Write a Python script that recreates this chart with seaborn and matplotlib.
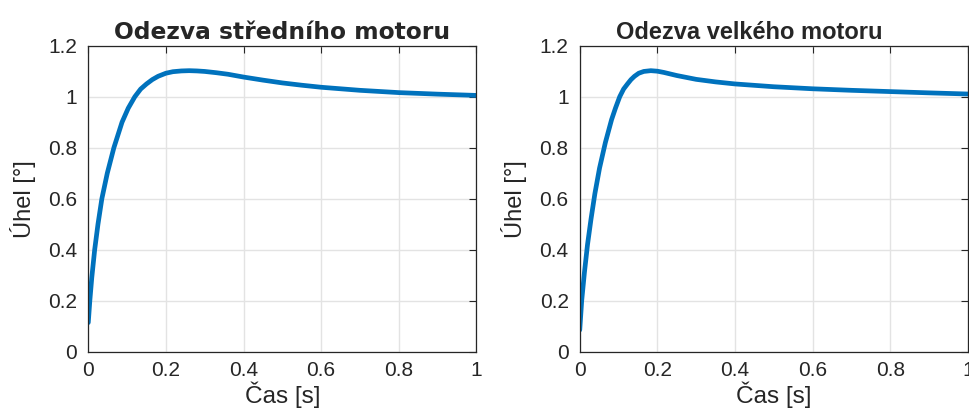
import matplotlib
matplotlib.use('Agg')
import matplotlib.pyplot as plt
from matplotlib.ticker import FuncFormatter
import seaborn as sns
import pandas as pd

# odezva stredniho motoru
t_stredni = [0, 0.004, 0.009, 0.0165, 0.025, 0.035, 0.049, 0.066, 0.087, 0.103, 0.12,
             0.135, 0.15, 0.165, 0.18, 0.2, 0.218, 0.24, 0.26, 0.28, 0.3, 0.33, 0.36,
             0.4, 0.45, 0.5, 0.55, 0.6, 0.7, 0.8, 0.9, 1.0]
uhel_stredni = [0.114, 0.2, 0.29, 0.4, 0.5, 0.6, 0.7, 0.8, 0.9, 0.955, 1.0,
                1.03, 1.05, 1.067, 1.08, 1.092, 1.098, 1.101, 1.102, 1.101, 1.099, 1.094, 1.088,
                1.077, 1.065, 1.054, 1.045, 1.037, 1.025, 1.016, 1.01, 1.005]

# odezva velkeho motoru
t_velky = [0, 0.005, 0.012, 0.02, 0.029, 0.039, 0.051, 0.066, 0.082, 0.092, 0.103,
           0.113, 0.123, 0.132, 0.141, 0.152, 0.165, 0.183, 0.2, 0.217, 0.25, 0.3,
           0.35, 0.4, 0.5, 0.6, 0.7, 0.8, 0.9, 1.0]
uhel_velky = [0.085, 0.2, 0.31, 0.42, 0.52, 0.62, 0.72, 0.82, 0.91, 0.955, 1.0,
              1.03, 1.05, 1.067, 1.08, 1.092, 1.099, 1.102, 1.1, 1.095, 1.083, 1.068,
              1.058, 1.05, 1.039, 1.031, 1.025, 1.02, 1.015, 1.0105]

titles = ['Odezva středního motoru', 'Odezva velkého motoru']
x_ticks = [0, 0.2, 0.4, 0.6, 0.8, 1]
y_ticks = [0, 0.2, 0.4, 0.6, 0.8, 1, 1.2]

sns.set_style('white')
plt.rcParams['font.family'] = ['Liberation Sans', 'DejaVu Sans']

fig = plt.figure(figsize=(9.69, 4.12), dpi=100)
ax1 = fig.add_axes([0.0911, 0.1464, 0.4005, 0.7427])
ax2 = fig.add_axes([0.5983, 0.1464, 0.4005, 0.7427])

data = [
    pd.DataFrame({'t': t_stredni, 'uhel': uhel_stredni}),
    pd.DataFrame({'t': t_velky, 'uhel': uhel_velky}),
]
# levy titulek je v sirsim fontu nez pravy
title_fonts = [['DejaVu Sans'], ['Liberation Sans']]
title_sizes = [16.8, 17]
title_x = [0.5, 0.438]

fmt = FuncFormatter(lambda v, p: '%g' % round(v, 3))

for i, ax in enumerate([ax1, ax2]):
    sns.lineplot(data=data[i], x='t', y='uhel', ax=ax, color='#0072BD', linewidth=3.4)
    ax.set_xlim(0, 1)
    ax.set_ylim(0, 1.2)
    ax.set_xticks(x_ticks)
    ax.set_yticks(y_ticks)
    ax.xaxis.set_major_formatter(fmt)
    ax.yaxis.set_major_formatter(fmt)
    ax.grid(True, color='#e3e3e3', linewidth=1)
    ax.set_axisbelow(True)
    ax.tick_params(direction='in', length=5, width=0.8, colors='#262626',
                   labelsize=15, top=True, right=True, labelcolor='#262626')
    ax.tick_params(axis='y', pad=8)
    ax.tick_params(axis='x', pad=7)
    for s in ax.spines.values():
        s.set_visible(True)
        s.set_color('#262626')
        s.set_linewidth(0.9)
    ax.set_xlabel('Čas [s]', fontsize=17.5, color='#262626', labelpad=1)
    ax.set_ylabel('Úhel [°]', fontsize=17, color='#262626', labelpad=9)
    ax.set_title(titles[i], fontsize=title_sizes[i], fontweight='bold',
                 family=title_fonts[i], pad=5)
    ax.title.set_x(title_x[i])

fig.savefig('out.png', dpi=100)
